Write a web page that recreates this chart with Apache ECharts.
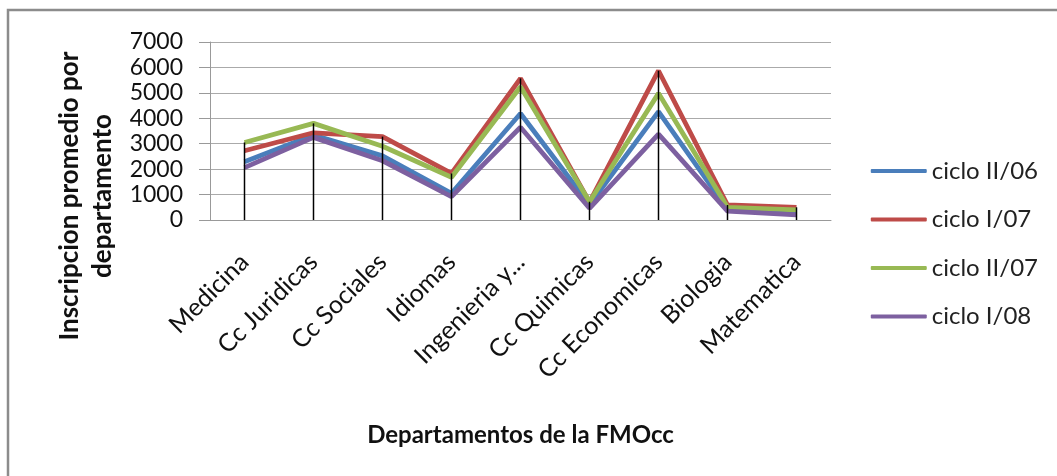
<!DOCTYPE html>
<html>
<head>
<meta charset="utf-8">
<script src="https://cdn.jsdelivr.net/npm/echarts@6/dist/echarts.min.js"></script>
<style>html,body{margin:0;padding:0;background:#fff;}#c{width:1057px;height:476px;}</style>
</head>
<body>
<div id="c"></div>
<script>
var categories = ['Medicina','Cc Juridicas','Cc Sociales','Idiomas','Ingenieria y...','Cc Quimicas','Cc Economicas','Biologia','Matematica'];
var cicloII06 = [2290, 3340, 2520, 1050, 4190, 600, 4260, 420, 300];
var cicloI07  = [2725, 3430, 3280, 1830, 5570, 700, 5870, 590, 500];
var cicloII07 = [3050, 3800, 2900, 1680, 5240, 720, 4980, 500, 400];
var cicloI08  = [2060, 3250, 2330, 920, 3650, 460, 3380, 350, 200];
var yTicks = [0, 1000, 2000, 3000, 4000, 5000, 6000, 7000];
var yTitle = 'Inscripcion promedio por\ndepartamento';
var xTitle = 'Departamentos de la FMOcc';

var seriesDefs = [
  {name: 'ciclo II/06', data: cicloII06, color: '#4A7EBB'},
  {name: 'ciclo I/07', data: cicloI07, color: '#BE4B48'},
  {name: 'ciclo II/07', data: cicloII07, color: '#98B954'},
  {name: 'ciclo I/08', data: cicloI08, color: '#7D60A0'}
];
var dropData = categories.map(function(c, i){
  return Math.max(cicloII06[i], cicloI07[i], cicloII07[i], cicloI08[i]);
});
var font = 'Lato';
var series = seriesDefs.map(function(s){
  return {
    name: s.name, type: 'line', data: s.data, showSymbol: false, symbol: 'none',
    lineStyle: {color: s.color, width: 4.8}, itemStyle: {color: s.color}, z: 2
  };
});
series.push({
  name: 'drop', type: 'bar', data: dropData, barWidth: 1.5, silent: true,
  itemStyle: {color: '#000'}, z: 5
});

var chart = echarts.init(document.getElementById('c'));
chart.setOption({
  animation: false,
  textStyle: {fontFamily: font},
  graphic: [{
    type: 'rect', shape: {x: 8, y: 10, width: 1200, height: 600},
    style: {fill: 'none', stroke: '#8c8c8c', lineWidth: 2.5}, z: -10
  }, {
    type: 'text', x: 86, y: 196, rotation: Math.PI / 2,
    style: {text: yTitle, font: 'bold 26px Lato', fill: '#111',
      textAlign: 'center', textVerticalAlign: 'middle', lineHeight: 33}
  }],
  grid: {left: 210, right: 226, top: 42, bottom: 256},
  legend: {
    orient: 'vertical', right: 14, top: 154,
    data: seriesDefs.map(function(s){return s.name;}),
    itemWidth: 56, itemHeight: 4, itemGap: 24.5,
    textStyle: {fontFamily: font, fontSize: 24, color: '#222'},
    icon: 'roundRect'
  },
  xAxis: {
    type: 'category', data: categories, boundaryGap: true,
    axisLine: {lineStyle: {color: '#999', width: 1}},
    axisTick: {show: false},
    axisLabel: {rotate: 45, fontSize: 25, color: '#111', margin: 38, interval: 0, fontFamily: font},
    name: xTitle, nameLocation: 'middle', nameGap: 203,
    nameTextStyle: {fontSize: 24, fontWeight: 'bold', color: '#111', fontFamily: font}
  },
  yAxis: {
    type: 'value', min: 0, max: 7000, interval: 1000,
    axisLine: {show: true, lineStyle: {color: '#999'}},
    axisTick: {show: true, length: 11, lineStyle: {color: '#999'}},
    splitLine: {lineStyle: {color: '#aaa', width: 1.2}},
    axisLabel: {fontSize: 23, color: '#111', margin: 27, fontFamily: font,
      formatter: function(v){ return yTicks.indexOf(v) >= 0 ? String(v) : ''; }}
  },
  series: series
});
</script>
</body>
</html>
